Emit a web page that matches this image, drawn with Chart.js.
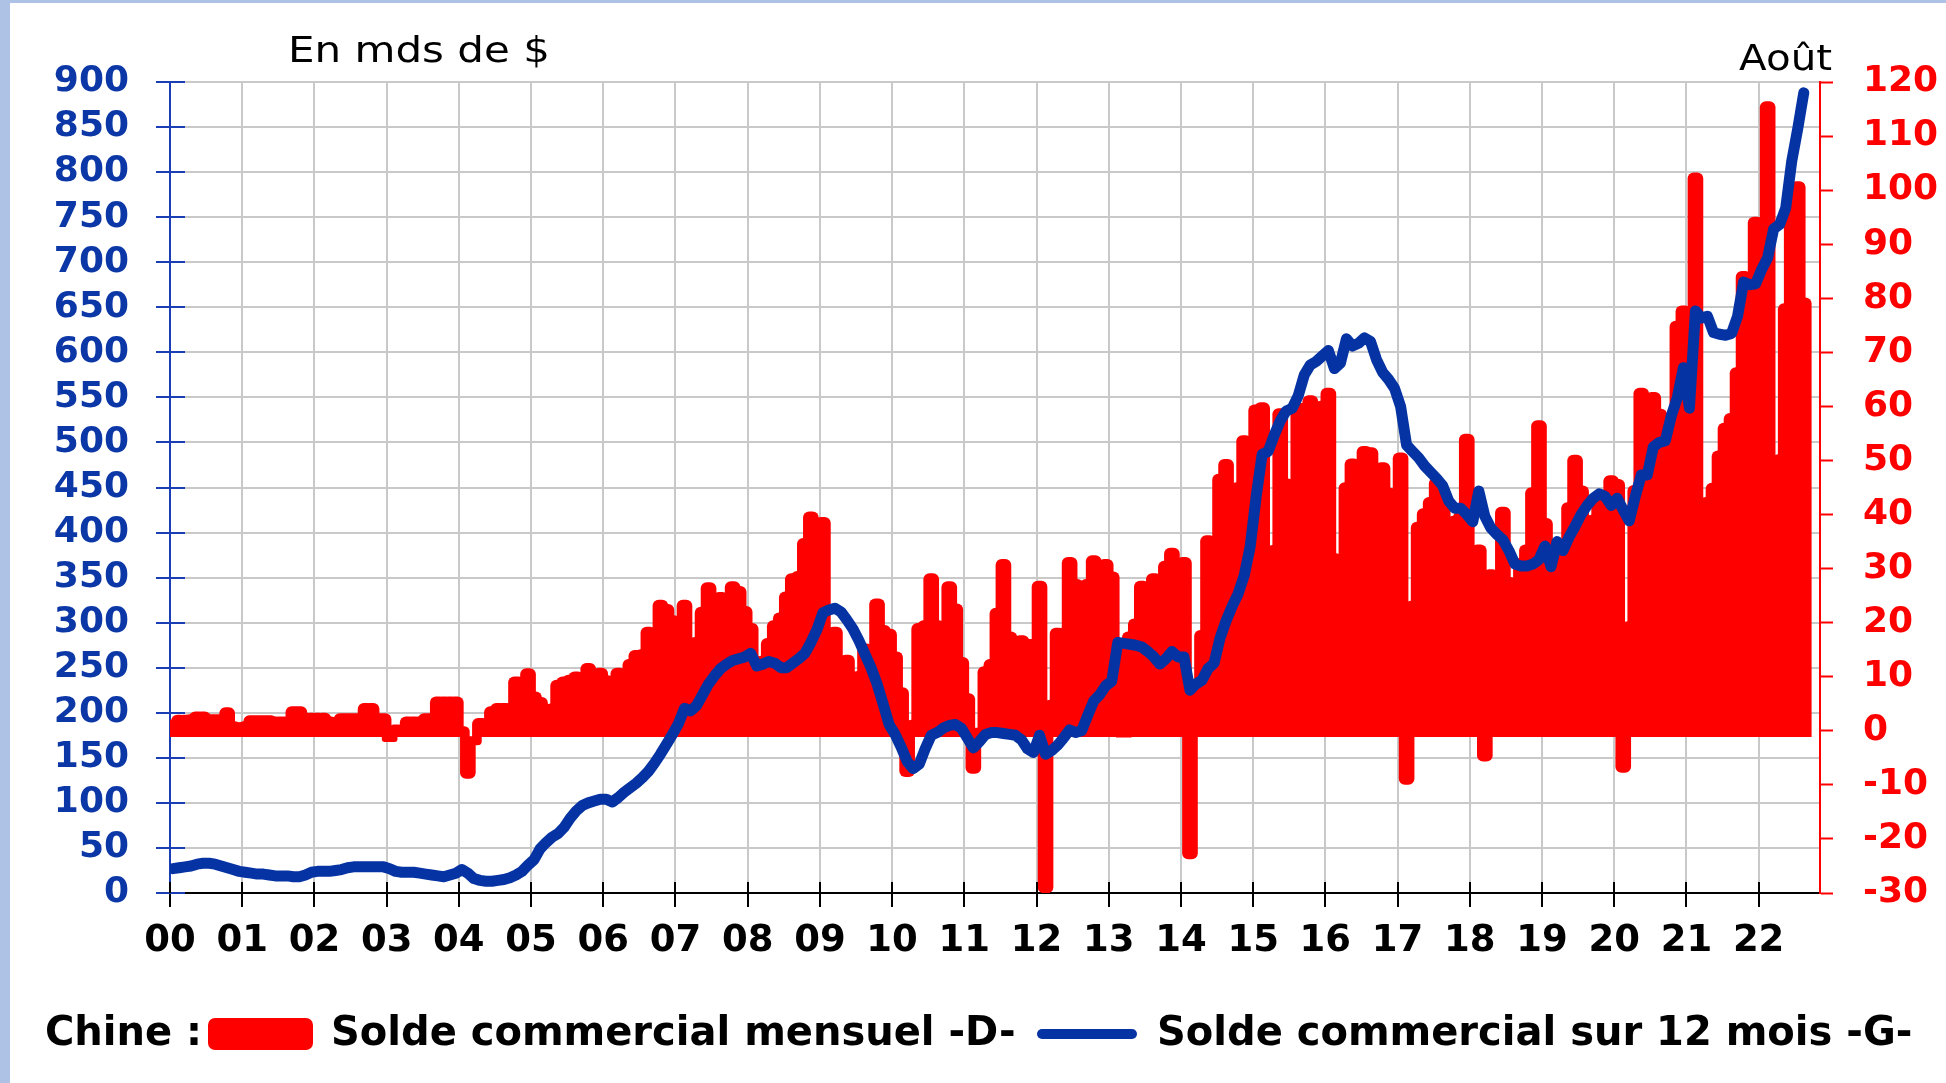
<!DOCTYPE html>
<html lang="fr">
<head>
<meta charset="utf-8">
<title>Chine : solde commercial</title>
<script src="https://cdn.jsdelivr.net/npm/chart.js@4.4.1/dist/chart.umd.min.js"></script>
<style>
  html, body { margin: 0; padding: 0; background: #fff; overflow: hidden; }
  body { width: 1946px; height: 1083px; position: relative; }
  .edge-left { position: absolute; left: 0; top: 0; width: 10px; height: 1083px; background: #adc2e5; }
  .edge-top { position: absolute; left: 0; top: 0; width: 1946px; height: 3px; background: #adc2e5; }
  canvas { position: absolute; left: 0; top: 0; }
</style>
</head>
<body>
<div class="edge-left"></div>
<div class="edge-top"></div>
<canvas id="out" width="1946" height="1083"></canvas>
<script>
const yearLabels = ["00", "01", "02", "03", "04", "05", "06", "07", "08", "09", "10",
  "11", "12", "13", "14", "15", "16", "17", "18", "19", "20", "21", "22"];

// solde commercial mensuel, mds $ (axe de droite), janv. 2000 -> août 2022
const monthlyBalance = [
  2.0, 2.9, 2.9, 3.0, 3.5, 3.5, 3.0, 3.0, 3.0, 4.3, 1.7, 1.5,            // 2000
  1.7, 2.8, 2.8, 2.8, 2.8, 2.6, 2.6, 2.6, 4.5, 4.5, 3.3, 3.3,            // 2001
  3.3, 3.3, 2.6, 2.0, 3.2, 3.2, 3.2, 3.2, 5.1, 5.1, 3.2, 3.2,            // 2002
  -2.0, 1.1, 1.1, 2.6, 2.6, 2.6, 3.2, 3.2, 6.3, 6.3, 6.3, 6.3,           // 2003
  0.8, -8.8, -2.6, 2.3, 2.3, 4.5, 5.1, 5.1, 5.1, 10.0, 10.0, 11.5,       // 2004
  7.2, 6.2, 1.5, 5.0, 9.4, 10.0, 10.3, 10.9, 8.0, 12.5, 11.0, 11.6,      // 2005
  10.2, 2.5, 11.6, 11.0, 13.2, 14.9, 15.0, 19.2, 15.6, 24.2, 23.4, 21.3, // 2006
  16.3, 24.2, 7.3, 17.3, 22.9, 27.4, 24.8, 25.6, 24.3, 27.6, 26.7, 23.0, // 2007
  19.9, 9.0, 13.8, 17.1, 20.4, 21.8, 25.7, 29.1, 29.5, 35.6, 40.5, 39.4, // 2008
  39.5, 5.2, 19.2, 13.5, 14.0, 8.7, 11.0, 16.1, 13.3, 24.4, 19.5, 18.8,  // 2009
  14.6, 8.0, -8.5, 2.0, 19.9, 20.4, 29.1, 20.4, 17.3, 27.6, 23.5, 13.6,  // 2010
  6.9, -7.9, 0.5, 11.9, 13.2, 22.7, 31.7, 18.3, 14.9, 17.6, 16.9, 16.9,  // 2011
  27.7, -30.0, 5.7, 19.0, 19.0, 32.1, 28.0, 26.9, 28.0, 32.4, 19.9, 31.7, // 2012
  29.4, 15.5, -1.2, 18.3, 20.7, 27.7, 18.0, 29.1, 15.5, 31.4, 33.8, 25.9, // 2013
  32.1, -23.7, 7.9, 18.6, 36.1, 31.8, 47.5, 50.2, 31.3, 45.9, 54.6, 49.8, // 2014
  60.3, 60.7, 3.2, 34.3, 59.6, 46.6, 43.2, 60.5, 60.6, 62.0, 54.4, 61.0, // 2015
  63.4, 32.8, 30.2, 45.9, 50.3, 48.4, 52.6, 52.4, 42.2, 49.6, 44.9, 41.1, // 2016
  51.4, -9.9, 24.0, 38.6, 41.1, 43.2, 46.8, 42.2, 28.7, 39.7, 40.5, 54.9, // 2017
  20.5, 34.4, -5.6, 29.8, 25.2, 41.4, 28.4, 28.2, 31.9, 34.4, 45.0, 57.4, // 2018
  39.3, 4.3, 32.8, 14.0, 42.2, 51.0, 45.3, 35.0, 39.9, 43.0, 39.0, 47.2, // 2019
  46.5, -7.7, 20.2, 45.4, 63.4, 46.6, 62.6, 59.5, 37.2, 58.6, 75.8, 78.6, // 2020
  0.0, 103.2, 13.8, 43.2, 45.8, 51.8, 56.9, 58.7, 67.2, 85.0, 72.0, 95.0, // 2021
  15.0, 116.4, 47.4, 51.1, 79.0, 100.0, 101.6, 80.1                       // 2022
];

// solde commercial cumulé sur 12 mois, mds $ (axe de gauche)
const rolling12 = [
  27, 28, 29, 30, 32, 33, 33, 32, 30, 28, 26, 24,             // 2000
  23, 22, 21, 21, 20, 19, 19, 19, 18, 18, 20, 23,             // 2001
  24, 24, 24, 25, 26, 28, 29, 29, 29, 29, 29, 29,             // 2002
  27, 24, 23, 23, 23, 22, 21, 20, 19, 18, 20, 22,             // 2003
  26, 22, 16, 14, 13, 13, 14, 15, 17, 20, 24, 31,             // 2004
  37, 49, 56, 62, 66, 73, 83, 91, 97, 100, 102, 104,          // 2005
  104, 101, 106, 112, 117, 122, 128, 135, 144, 154, 165, 176, // 2006
  188, 205, 202, 208, 220, 232, 241, 249, 254, 258, 260, 262, // 2007
  266, 252, 254, 257, 255, 250, 250, 255, 260, 266, 278, 292, // 2008
  311, 314, 316, 312, 303, 293, 280, 265, 250, 232, 210, 187, // 2009
  176, 162, 146, 138, 143, 160, 175, 178, 183, 186, 187, 183, // 2010
  172, 161, 168, 176, 178, 178, 177, 176, 175, 170, 160, 156, // 2011
  175, 154, 158, 164, 172, 181, 178, 180, 197, 213, 220, 230, // 2012
  235, 278, 277, 276, 275, 273, 268, 262, 254, 260, 268, 262, // 2013
  262, 225, 232, 236, 249, 255, 283, 302, 318, 332, 352, 384, // 2014
  440, 487, 490, 508, 524, 535, 538, 552, 575, 586, 590, 596, // 2015
  602, 582, 588, 615, 607, 610, 616, 612, 592, 578, 570, 560, // 2016
  540, 497, 490, 483, 474, 467, 460, 452, 435, 427, 427, 420, // 2017
  412, 446, 418, 405, 398, 392, 380, 365, 363, 363, 365, 370, // 2018
  385, 362, 390, 380, 395, 407, 420, 430, 438, 443, 440, 430, // 2019
  438, 425, 413, 440, 464, 464, 495, 500, 502, 530, 550, 583, // 2020
  538, 646, 638, 640, 622, 620, 619, 621, 640, 678, 675, 676, // 2021
  692, 705, 737, 742, 760, 812, 848, 888                      // 2022
];

const RED = "#ff0000";
const LINE_BLUE = "#0533a3";
const AXIS_BLUE = "#1a3fb5";
const LABEL_BLUE = "#0c37a6";
const GRID = "#c9c9c9";
const tickFont = { family: "DejaVu Sans", size: 36, weight: "bold" };

// x = mois depuis janv. 2000, point au milieu du mois
const toPoints = (arr) => arr.map((v, i) => ({ x: i + 0.5, y: v }));

const decorations = {
  id: "decorations",
  afterDraw(chart) {
    const ctx = chart.ctx;
    const area = chart.chartArea;
    const yL = chart.scales.yLeft;
    const xs = chart.scales.x;
    ctx.save();

    // petits traits vers l'intérieur (axe gauche et axe des x)
    ctx.lineWidth = 2;
    ctx.strokeStyle = AXIS_BLUE;
    yL.ticks.forEach(t => {
      const py = Math.round(yL.getPixelForValue(t.value));
      ctx.beginPath();
      ctx.moveTo(area.left, py);
      ctx.lineTo(area.left + 15, py);
      ctx.stroke();
    });
    ctx.strokeStyle = "#000";
    xs.ticks.forEach(t => {
      const px = Math.round(xs.getPixelForValue(t.value));
      ctx.beginPath();
      ctx.moveTo(px, area.bottom);
      ctx.lineTo(px, area.bottom - 11);
      ctx.stroke();
    });

    // unités et dernier mois
    ctx.fillStyle = "#000";
    ctx.textBaseline = "alphabetic";
    ctx.font = '35px "DejaVu Sans"';
    ctx.save();
    ctx.translate(288, 62);
    ctx.scale(1.2, 1);
    ctx.textAlign = "left";
    ctx.fillText("En mds de $", 0, 0);
    ctx.restore();
    ctx.save();
    ctx.font = '36px "DejaVu Sans"';
    ctx.translate(1832, 70);
    ctx.scale(1.12, 1);
    ctx.textAlign = "right";
    ctx.fillText("Août", 0, 0);
    ctx.restore();

    // légende
    const ds = chart.data.datasets;
    ctx.font = 'bold 40px "DejaVu Sans"';
    ctx.textAlign = "left";
    ctx.fillText("Chine :", 45, 1045);
    ctx.fillStyle = RED;
    ctx.beginPath();
    ctx.roundRect(208, 1018, 105, 32, 7);
    ctx.fill();
    ctx.fillStyle = "#000";
    ctx.fillText(ds[1].label, 331, 1045);
    ctx.strokeStyle = LINE_BLUE;
    ctx.lineWidth = 10;
    ctx.lineCap = "round";
    ctx.beginPath();
    ctx.moveTo(1042, 1034);
    ctx.lineTo(1132, 1034);
    ctx.stroke();
    ctx.fillText(ds[0].label, 1157, 1045);

    ctx.restore();
  }
};

const ctx = document.getElementById("out").getContext("2d");
const chart = new Chart(ctx, {
  type: "bar",
  data: {
    datasets: [
      {
        type: "line",
        label: "Solde commercial sur 12 mois -G-",
        data: toPoints(rolling12),
        yAxisID: "yLeft",
        borderColor: LINE_BLUE,
        borderWidth: 11,
        pointRadius: 0,
        tension: 0,
        borderCapStyle: "round",
        borderJoinStyle: "round",
        order: 0
      },
      {
        type: "bar",
        label: "Solde commercial mensuel -D-",
        data: toPoints(monthlyBalance),
        yAxisID: "yRight",
        backgroundColor: RED,
        barThickness: 15,
        borderRadius: 6,
        base: -1.1,
        clip: 0,
        order: 1
      }
    ]
  },
  options: {
    responsive: false,
    animation: false,
    devicePixelRatio: 1,
    events: [],
    layout: { padding: { top: 82, left: 0, right: 0, bottom: 0 } },
    plugins: {
      legend: { display: false },
      tooltip: { enabled: false }
    },
    scales: {
      x: {
        type: "linear",
        position: "bottom",
        min: 0,
        max: 274.2,
        offset: false,
        afterFit: (s) => { s.height = 190; },
        grid: {
          offset: false,
          color: (c) => (c.tick && c.tick.value === 0 ? "rgba(0,0,0,0)" : GRID),
          lineWidth: 2,
          tickLength: 14,
          tickColor: "#000",
          tickWidth: 2
        },
        border: { display: true, color: "#000", width: 2 },
        ticks: {
          stepSize: 12,
          maxTicksLimit: 40,
          includeBounds: false,
          autoSkip: false,
          maxRotation: 0,
          padding: 12,
          color: "#000",
          font: { family: "DejaVu Sans", size: 37, weight: "bold" },
          callback: (v) => yearLabels[Math.round(v / 12)]
        }
      },
      yLeft: {
        axis: "y",
        position: "left",
        min: 0,
        max: 900,
        afterFit: (s) => { s.width = 170; },
        grid: {
          color: (c) => (c.tick && c.tick.value === 0 ? "rgba(0,0,0,0)" : GRID),
          lineWidth: 2,
          tickLength: 14,
          tickColor: AXIS_BLUE,
          tickWidth: 2
        },
        border: { display: true, color: AXIS_BLUE, width: 2 },
        ticks: {
          stepSize: 50,
          maxTicksLimit: 40,
          autoSkip: false,
          padding: 27,
          color: LABEL_BLUE,
          font: tickFont
        }
      },
      yRight: {
        axis: "y",
        position: "right",
        min: -30,
        max: 120,
        afterFit: (s) => { s.width = 126; },
        grid: {
          drawOnChartArea: false,
          tickLength: 13,
          tickColor: RED,
          tickWidth: 2
        },
        border: { display: true, color: RED, width: 2 },
        ticks: {
          stepSize: 10,
          maxTicksLimit: 40,
          autoSkip: false,
          padding: 30,
          color: RED,
          font: tickFont
        }
      }
    }
  },
  plugins: [decorations]
});
</script>
</body>
</html>
